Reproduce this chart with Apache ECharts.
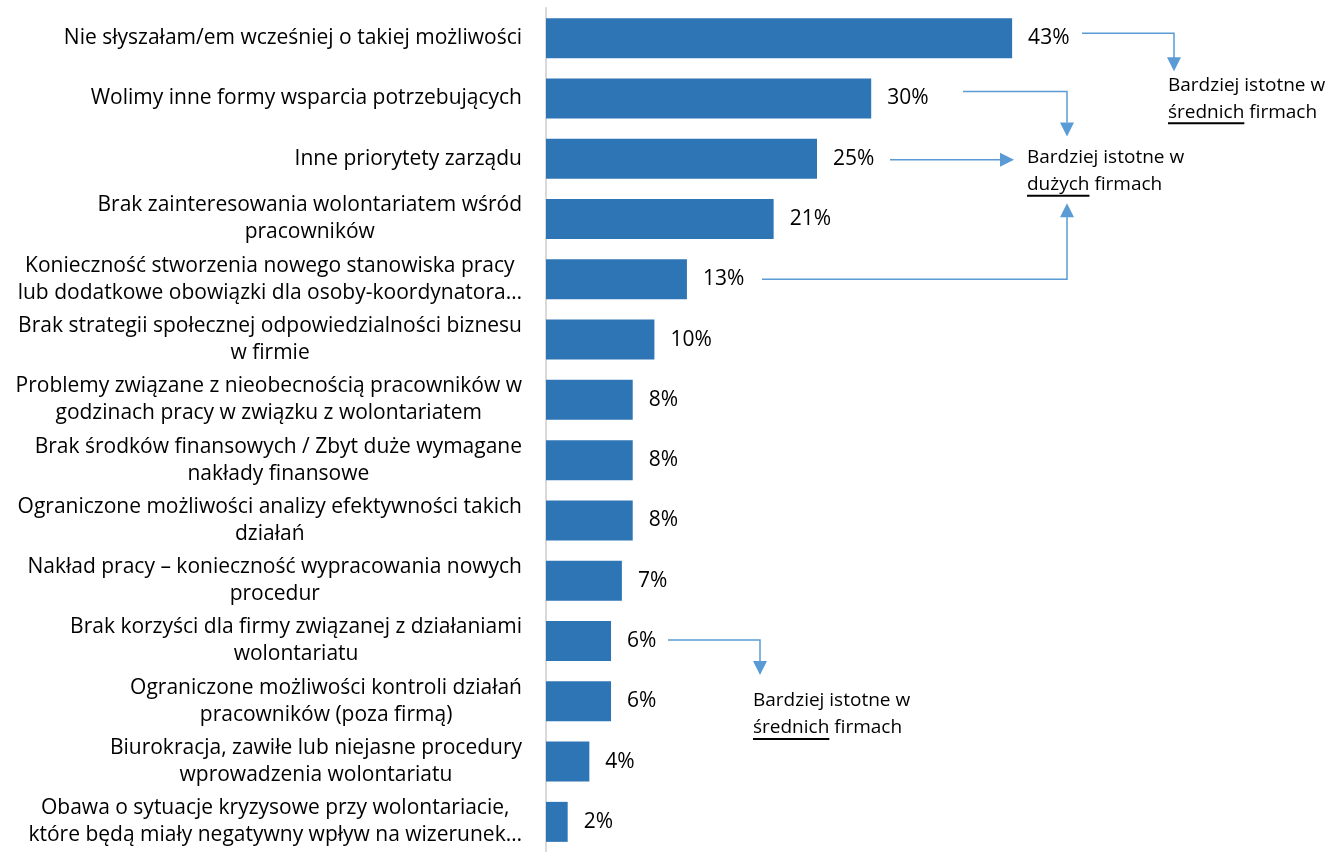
<!DOCTYPE html>
<html>
<head>
<meta charset="utf-8">
<script src="https://cdn.jsdelivr.net/npm/echarts@6/dist/echarts.min.js"></script>
<style>
  html, body { margin: 0; padding: 0; background: #fff; }
  #chart { width: 1341px; height: 852px; }
</style>
</head>
<body>
<div id="chart"></div>
<script>
// Reasons for not running employee volunteering programmes (% of answers)
const categories = [
  'Nie słyszałam/em wcześniej o takiej możliwości',
  'Wolimy inne formy wsparcia potrzebujących',
  'Inne priorytety zarządu',
  'Brak zainteresowania wolontariatem wśród\npracowników',
  'Konieczność stworzenia nowego stanowiska pracy\nlub dodatkowe obowiązki dla osoby-koordynatora…',
  'Brak strategii społecznej odpowiedzialności biznesu\nw firmie',
  'Problemy związane z nieobecnością pracowników w\ngodzinach pracy w związku z wolontariatem',
  'Brak środków finansowych / Zbyt duże wymagane\nnakłady finansowe',
  'Ograniczone możliwości analizy efektywności takich\ndziałań',
  'Nakład pracy – konieczność wypracowania nowych\nprocedur',
  'Brak korzyści dla firmy związanej z działaniami\nwolontariatu',
  'Ograniczone możliwości kontroli działań\npracowników (poza firmą)',
  'Biurokracja, zawiłe lub niejasne procedury\nwprowadzenia wolontariatu',
  'Obawa o sytuacje kryzysowe przy wolontariacie,\nktóre będą miały negatywny wpływ na wizerunek…'
];
const values = [43, 30, 25, 21, 13, 10, 8, 8, 8, 7, 6, 6, 4, 2];

const FONT = '"Open Sans", "Noto Sans", sans-serif';
const FS = 21;      // category and value labels
const NOTE_FS = 19; // side notes
const ARROW = '#5B9BD5';

const chart = echarts.init(document.getElementById('chart'), null, { renderer: 'canvas' });

chart.setOption({
  animation: false,
  textStyle: { fontFamily: FONT },
  grid: { left: 546, right: 253, top: 8, bottom: -6, containLabel: false },
  xAxis: {
    type: 'value', min: 0, max: 50,
    show: false
  },
  yAxis: {
    type: 'category',
    inverse: true,
    data: categories,
    axisLine: { show: true, lineStyle: { color: '#D9D9D9', width: 2 } },
    axisTick: { show: false },
    splitLine: { show: false },
    axisLabel: {
      margin: 24,
      align: 'right',
      formatter: function (v) {
        return v.split('\n').map(function (l) { return '{c|' + l + '}'; }).join('\n');
      },
      rich: {
        c: { align: 'center', fontFamily: FONT, fontSize: FS, color: '#000', lineHeight: 27 }
      }
    }
  },
  series: [{
    type: 'bar',
    data: values,
    barWidth: 40,
    itemStyle: { color: '#2E75B6' },
    label: {
      show: true, position: 'right', distance: 16,
      formatter: '{c}%',
      fontFamily: FONT, fontSize: FS, color: '#000'
    }
  }]
});

// Annotation arrows and notes, anchored to category rows
function rowY(i) { return chart.convertToPixel({ yAxisIndex: 0 }, i); }

const measureCtx = document.createElement('canvas').getContext('2d');
measureCtx.font = NOTE_FS + 'px ' + FONT;
function textW(s) { return measureCtx.measureText(s).width; }

function polyline(points) {
  return { type: 'polyline', shape: { points: points }, style: { stroke: ARROW, lineWidth: 1.5, fill: null }, silent: true };
}
function arrowDown(x, tipY) {
  return { type: 'polygon', shape: { points: [[x - 7, tipY - 14], [x + 7, tipY - 14], [x, tipY]] }, style: { fill: ARROW }, silent: true };
}
function arrowUp(x, tipY) {
  return { type: 'polygon', shape: { points: [[x - 7, tipY + 14], [x + 7, tipY + 14], [x, tipY]] }, style: { fill: ARROW }, silent: true };
}
function arrowRight(tipX, y) {
  return { type: 'polygon', shape: { points: [[tipX - 14, y - 7], [tipX - 14, y + 7], [tipX, y]] }, style: { fill: ARROW }, silent: true };
}
function note(x, y, word) {
  const font = NOTE_FS + 'px ' + FONT;
  const els = [];
  els.push({ type: 'text', x: x, y: y, style: { text: 'Bardziej istotne w', font: font, fill: '#000', textVerticalAlign: 'middle' }, silent: true });
  els.push({ type: 'text', x: x, y: y + 27, style: { text: word + ' firmach', font: font, fill: '#000', textVerticalAlign: 'middle' }, silent: true });
  const w = textW(word);
  els.push({ type: 'line', shape: { x1: x, y1: y + 38, x2: x + w, y2: y + 38 }, style: { stroke: '#000', lineWidth: 2 }, silent: true });
  return els;
}

const y0 = rowY(0), y1 = rowY(1), y2 = rowY(2), y4 = rowY(4), y10 = rowY(10);
const elements = [].concat(
  [polyline([[1082, y0 - 5], [1174, y0 - 5], [1174, y0 + 20]]), arrowDown(1174, y0 + 33)],
  [polyline([[963, y1 - 7], [1067, y1 - 7], [1067, y1 + 24]]), arrowDown(1067, y1 + 38)],
  [polyline([[890, y2 + 1], [1000, y2 + 1]]), arrowRight(1014, y2 + 1)],
  [polyline([[762, y4], [1067, y4], [1067, y4 - 63]]), arrowUp(1067, y4 - 76)],
  [polyline([[668, y10 - 1], [760, y10 - 1], [760, y10 + 20]]), arrowDown(760, y10 + 34)],
  note(1168, y0 + 47, 'średnich'),
  note(1027, y2 - 1, 'dużych'),
  note(753, y10 + 60, 'średnich')
);
chart.setOption({ graphic: { elements: elements } });
</script>
</body>
</html>
